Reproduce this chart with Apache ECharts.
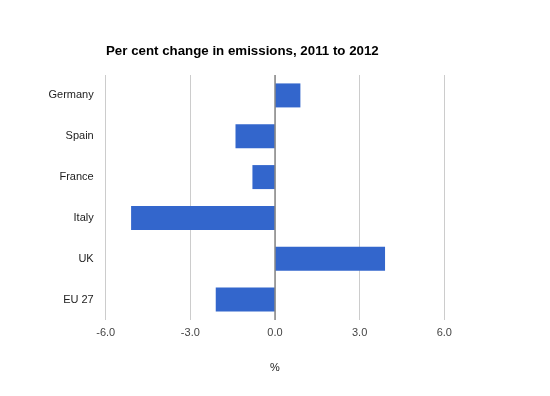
<!DOCTYPE html>
<html>
<head>
<meta charset="utf-8">
<script src="https://cdn.jsdelivr.net/npm/echarts@6/dist/echarts.min.js"></script>
<style>html,body{margin:0;padding:0;background:#fff;}#c{width:550px;height:396px;}</style>
</head>
<body>
<div id="c"></div>
<script>
var categories = ['Germany', 'Spain', 'France', 'Italy', 'UK', 'EU 27'];
var values = [0.9, -1.4, -0.8, -5.1, 3.9, -2.1];
var xTicks = { min: -6, max: 6, interval: 3 };
var titleText = 'Per cent change in emissions, 2011 to 2012';
var axisName = '%';

var chart = echarts.init(document.getElementById('c'), null, { renderer: 'canvas' });
chart.setOption({
  animation: false,
  backgroundColor: '#ffffff',
  textStyle: { fontFamily: 'Liberation Sans, Arial, sans-serif' },
  title: {
    text: titleText,
    left: 101,
    top: 40,
    textStyle: { fontSize: 13.3, fontWeight: 'bold', color: '#000', fontFamily: 'Liberation Sans, Arial, sans-serif' }
  },
  grid: { left: 105.7, right: 105.7, top: 75, bottom: 76, containLabel: false },
  xAxis: {
    type: 'value',
    min: xTicks.min,
    max: xTicks.max,
    interval: xTicks.interval,
    name: axisName,
    nameLocation: 'middle',
    nameGap: 42,
    nameTextStyle: { fontSize: 11, color: '#222' },
    axisLine: { show: false },
    axisTick: { show: false },
    axisLabel: { fontSize: 11, color: '#444', margin: 7, formatter: function (v) { return v.toFixed(1); } },
    splitLine: { show: true, lineStyle: { color: '#cccccc', width: 1 } }
  },
  yAxis: {
    type: 'category',
    data: categories,
    inverse: true,
    axisLine: { show: false },
    axisTick: { show: false },
    axisLabel: { fontSize: 11, color: '#222', margin: 12 },
    splitLine: { show: false }
  },
  series: [{
    type: 'bar',
    data: values,
    barWidth: 24,
    itemStyle: { color: '#3366cc' },
    markLine: {
      silent: true,
      symbol: 'none',
      label: { show: false },
      lineStyle: { color: '#888888', type: 'solid', width: 1.5 },
      data: [{ xAxis: 0 }]
    }
  }]
});
</script>
</body>
</html>
